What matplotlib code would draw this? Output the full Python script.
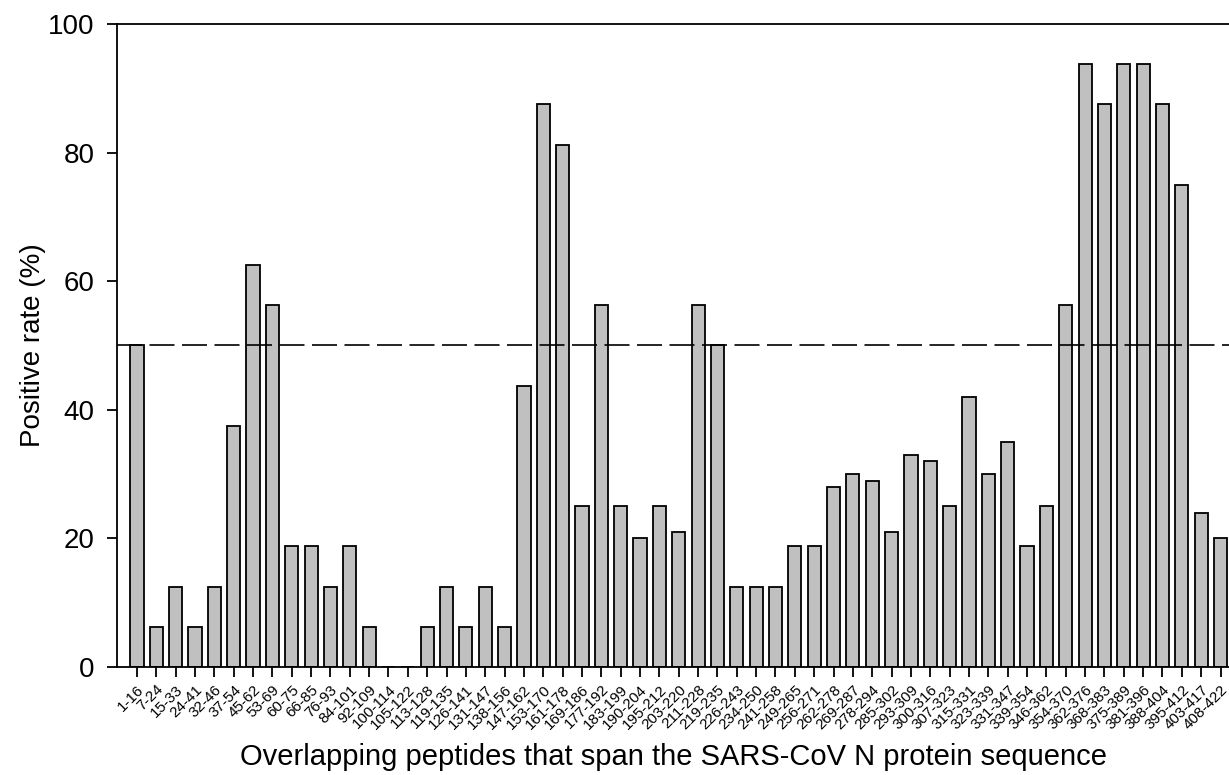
import matplotlib

matplotlib.use("Agg")
import matplotlib.pyplot as plt

peptides = [
    "1-16", "7-24", "15-33", "24-41", "32-46", "37-54", "45-62", "53-69",
    "60-75", "66-85", "76-93", "84-101", "92-109", "100-114", "105-122",
    "113-128", "119-135", "126-141", "131-147", "138-156", "147-162",
    "153-170", "161-178", "169-186", "177-192", "183-199", "190-204",
    "195-212", "203-220", "211-228", "219-235", "226-243", "234-250",
    "241-258", "249-265", "256-271", "262-278", "269-287", "278-294",
    "285-302", "293-309", "300-316", "307-323", "315-331", "323-339",
    "331-347", "339-354", "346-362", "354-370", "362-376", "368-383",
    "375-389", "381-396", "388-404", "395-412", "403-417", "408-422",
]
positive_rate = [
    50, 6.25, 12.5, 6.25, 12.5, 37.5, 62.5, 56.25,
    18.75, 18.75, 12.5, 18.75, 6.25, 0, 0,
    6.25, 12.5, 6.25, 12.5, 6.25, 43.75,
    87.5, 81.25, 25, 56.25, 25, 20,
    25, 21, 56.25, 50, 12.5, 12.5,
    12.5, 18.75, 18.75, 28, 30, 29,
    21, 33, 32, 25, 42, 30,
    35, 18.75, 25, 56.25, 93.75, 87.5,
    93.75, 93.75, 87.5, 75, 24, 20,
]
threshold = 50

plt.rcParams["font.family"] = ["Liberation Sans", "DejaVu Sans"]

fig = plt.figure(figsize=(12.29, 7.75), dpi=100)
ax = fig.add_axes([0.0952, 0.1394, 0.905, 0.8296])

x = range(len(peptides))
ax.bar(x, positive_rate, width=0.68, color="#c0c0c0", edgecolor="black", linewidth=1.3, zorder=2)
ax.axhline(threshold, color="black", linewidth=1.2, dashes=(15, 4.5), zorder=3)

ax.set_xlim(-1.03, 56.45)
ax.set_ylim(0, 100)
ax.set_yticks(range(0, 101, 20))
ax.set_xticks(list(x))
ax.set_xticklabels(peptides, rotation=45, ha="right", rotation_mode="anchor", fontsize=11)
ax.tick_params(axis="y", labelsize=20, length=7, width=1.3, direction="out", pad=9)
ax.tick_params(axis="x", length=7, width=1.3, direction="out", pad=4)

for side in ["left", "top", "bottom"]:
    ax.spines[side].set_linewidth(1.3)
ax.spines["right"].set_visible(False)

ax.set_ylabel("Positive rate (%)", fontsize=20, labelpad=2)
ax.set_xlabel("Overlapping peptides that span the SARS-CoV N protein sequence", fontsize=21, labelpad=8)

fig.savefig("out.png", dpi=100)
